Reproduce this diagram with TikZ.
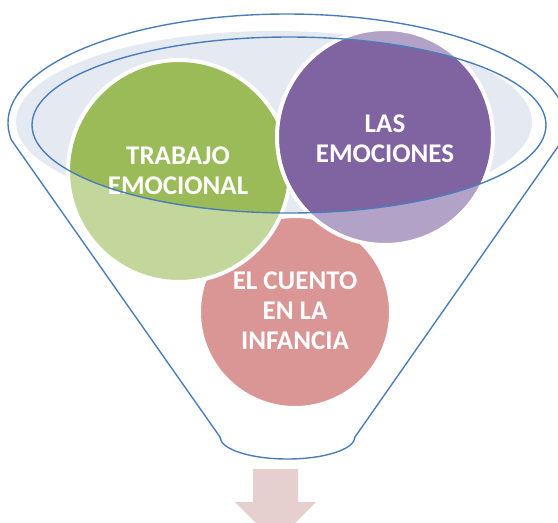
\documentclass[tikz,border=0pt]{standalone}
\usepackage{fontspec}
\setmainfont{Carlito}
\definecolor{greendark}{HTML}{9BBB59}
\definecolor{greenlight}{HTML}{C3D69B}
\definecolor{purpledark}{HTML}{8064A2}
\definecolor{purplelight}{HTML}{B3A2C7}
\definecolor{pinkc}{HTML}{D99694}
\definecolor{glass}{HTML}{E4E9F2}
\definecolor{arrowc}{HTML}{E6CFCF}
\definecolor{funnelline}{HTML}{4A7EBB}
\tikzset{
  ringline/.style={draw=white, line width=4pt},
  funnelstroke/.style={draw=funnelline, line width=1.4pt, line join=round},
  label/.style={text=white, font=\bfseries\fontsize{27}{30}\selectfont, align=center, inner sep=0pt},
}
\begin{document}
\begin{tikzpicture}[x=1pt,y=-1pt]
\useasboundingbox (0,0) rectangle (558,523);
\fill[white] (0,0) rectangle (558,523);
\begin{scope}
\clip (0,0) rectangle (558,523);
% arrow
\fill[arrowc] (253,469) -- (298,469) -- (298,502) -- (316,502) -- (275.5,542.5) -- (235,502) -- (253,502) -- cycle;
% glass fill ellipse
\fill[glass] (274,122) ellipse [x radius=258, y radius=91];
% pink circle
\fill[pinkc] (295,312) circle [radius=96];
\draw[ringline] (295,312) circle [radius=96];
% green circle
\fill[greenlight] (179,171) circle [radius=111];
\begin{scope}
\clip (289,125) ellipse [x radius=257, y radius=88];
\fill[greendark] (179,171) circle [radius=111];
\end{scope}
\draw[ringline] (179,171) circle [radius=111];
% purple circle
\fill[purplelight] (385,137) circle [radius=108];
\begin{scope}
\clip (289,125) ellipse [x radius=257, y radius=88];
\fill[purpledark] (385,137) circle [radius=108];
\end{scope}
\draw[ringline] (385,137) circle [radius=108];
% labels
\node[label] (trabajo) at (178,171) {TRABAJO\\EMOCIONAL};
\node[label] (emociones) at (385,139) {LAS\\EMOCIONES};
\node[label] (cuento) at (295,311) {EL CUENTO\\EN LA\\INFANCIA};
% funnel outline
\draw[funnelstroke] (287,123) ++(171:279 and 109)
  arc [start angle=171, end angle=369, x radius=279, y radius=109]
  -- (355,437)
  arc [start angle=0, end angle=180, x radius=67.5, y radius=22]
  -- cycle;
\draw[funnelstroke] (289,125) ellipse [x radius=257, y radius=88];
\end{scope}
\end{tikzpicture}
\end{document}
